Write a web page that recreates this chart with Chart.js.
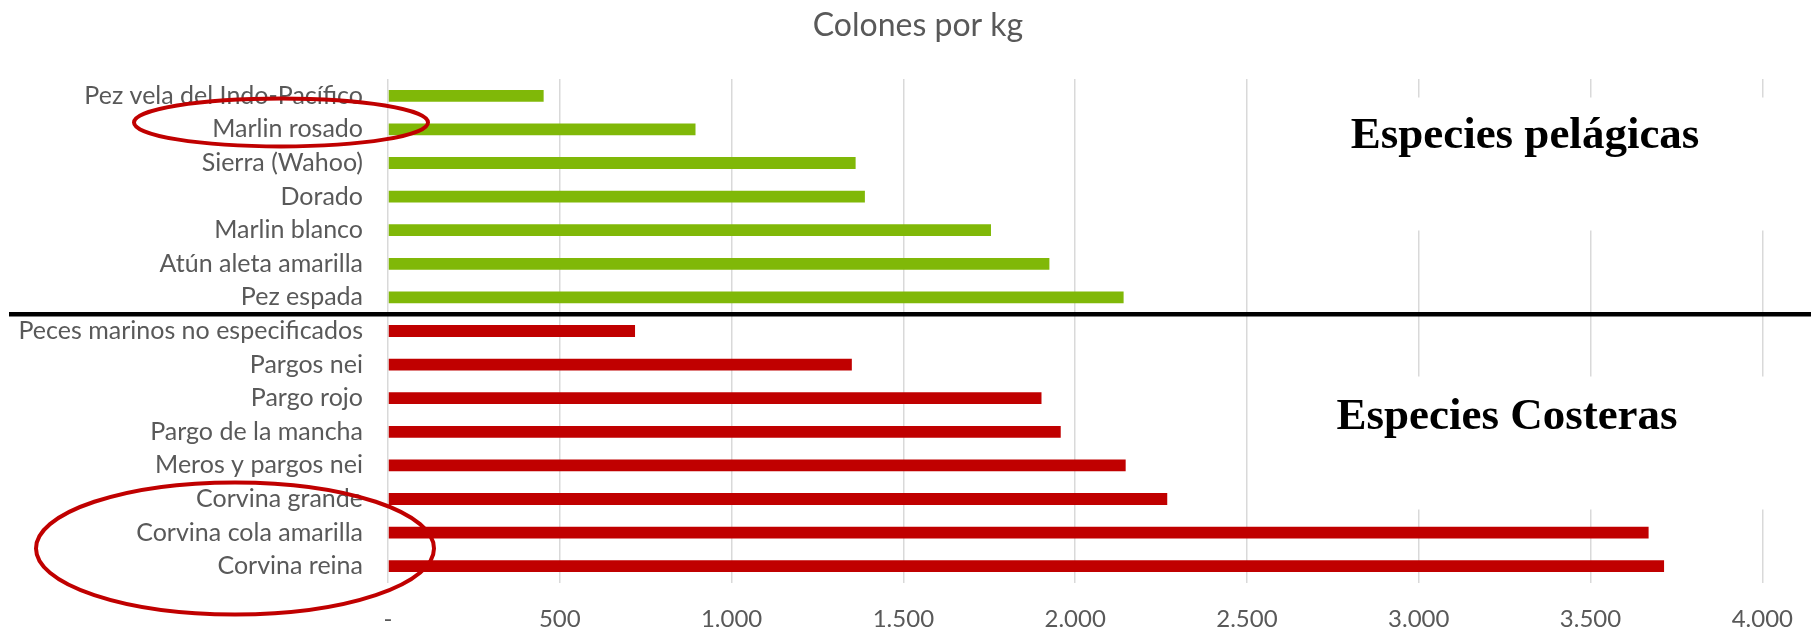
<!DOCTYPE html>
<html><head><meta charset="utf-8">
<script src="https://cdn.jsdelivr.net/npm/chart.js@4.4.1/dist/chart.umd.min.js"></script>
<style>html,body{margin:0;padding:0;background:#fff;overflow:hidden}#wrap{width:1815px;height:634px;position:relative}canvas{display:block}</style>
</head><body><div id="wrap"><canvas id="c" width="1815" height="634"></canvas></div>
<script>
const titleText = "Colones por kg";
const pelagicLabels = ["Pez vela del Indo-Pacífico", "Marlin rosado", "Sierra (Wahoo)", "Dorado", "Marlin blanco", "Atún aleta amarilla", "Pez espada"];
const pelagicValues = [453, 895, 1361, 1388, 1755, 1925, 2141];
const coastalLabels = ["Peces marinos no especificados", "Pargos nei", "Pargo rojo", "Pargo de la mancha", "Meros y pargos nei", "Corvina grande", "Corvina cola amarilla", "Corvina reina"];
const coastalValues = [719, 1350, 1902, 1958, 2147, 2268, 3669, 3714];
const tickLabels = ["-", "500", "1.000", "1.500", "2.000", "2.500", "3.000", "3.500", "4.000"];
const groupNames = ["Especies pelágicas", "Especies Costeras"];

const pelagicColor = "#80B808";
const coastalColor = "#C00000";
const categories = pelagicLabels.concat(coastalLabels);
const values = pelagicValues.concat(coastalValues);
const colors = categories.map((_, i) => i < pelagicLabels.length ? pelagicColor : coastalColor);

const FONT = "Lato";
const overlay = {
  id: 'overlay',
  beforeDatasetsDraw(chart) {
    const ctx = chart.ctx, a = chart.chartArea;
    ctx.save();
    ctx.fillStyle = '#ffffff';
    // text boxes (white background hides gridlines)
    ctx.fillRect(1300, a.top + 18.5, chart.width - 1300, 133);
    ctx.fillRect(1300, a.top + 297.5, chart.width - 1300, 133);
    ctx.restore();
  },
  afterDraw(chart) {
    const ctx = chart.ctx, a = chart.chartArea, y = chart.scales.y;
    ctx.save();
    // title
    ctx.fillStyle = '#595959';
    ctx.font = `32px ${FONT}`;
    ctx.textAlign = 'center';
    ctx.textBaseline = 'alphabetic';
    ctx.fillText(titleText, 918, 36);
    // group names
    ctx.fillStyle = '#000000';
    ctx.font = `bold 45px "Liberation Serif"`;
    ctx.fillText(groupNames[0], 1525, a.top + 69);
    ctx.fillText(groupNames[1], 1507, a.top + 349.5);
    // separator line
    const n = pelagicLabels.length;
    const sepY = (y.getPixelForValue(n - 1) + y.getPixelForValue(n)) / 2;
    ctx.strokeStyle = '#000000';
    ctx.lineWidth = 4.5;
    ctx.beginPath();
    ctx.moveTo(9, sepY);
    ctx.lineTo(chart.width - 4, sepY);
    ctx.stroke();
    // ellipses
    ctx.strokeStyle = '#C00000';
    ctx.lineWidth = 4;
    ctx.beginPath();
    ctx.ellipse(a.left - 107, y.getPixelForValue(1) - 7, 147, 24, 0, 0, Math.PI * 2);
    ctx.stroke();
    const last = categories.length - 1;
    ctx.beginPath();
    ctx.ellipse(a.left - 153, (y.getPixelForValue(last - 1) + y.getPixelForValue(last)) / 2 - 1, 199, 66, 0, 0, Math.PI * 2);
    ctx.stroke();
    ctx.restore();
  }
};

new Chart(document.getElementById('c'), {
  type: 'bar',
  data: {
    labels: categories,
    datasets: [{
      data: values,
      backgroundColor: colors,
      borderWidth: 0,
      barPercentage: 0.35,
      categoryPercentage: 1.0
    }]
  },
  options: {
    indexAxis: 'y',
    responsive: false,
    animation: false,
    devicePixelRatio: 1,
    layout: { padding: { top: 79, right: 52, bottom: 0, left: 0 } },
    plugins: { legend: { display: false }, tooltip: { enabled: false }, title: { display: false } },
    scales: {
      x: {
        min: 0, max: 4000,
        ticks: { stepSize: 500, padding: 22, color: '#595959', font: { family: FONT, size: 24 }, maxRotation: 0,
                 callback: (v, i) => tickLabels[i] },
        grid: { color: '#d9d9d9', lineWidth: 1.5, drawTicks: false },
        border: { display: false },
        afterFit(s) { s.height = 51; }
      },
      y: {
        ticks: { padding: 25, color: '#595959', font: { family: FONT, size: 25 }, autoSkip: false },
        grid: { display: false, drawTicks: false },
        border: { display: false },
        afterFit(s) { s.width = 388; }
      }
    }
  },
  plugins: [overlay]
});
</script>
</body></html>
